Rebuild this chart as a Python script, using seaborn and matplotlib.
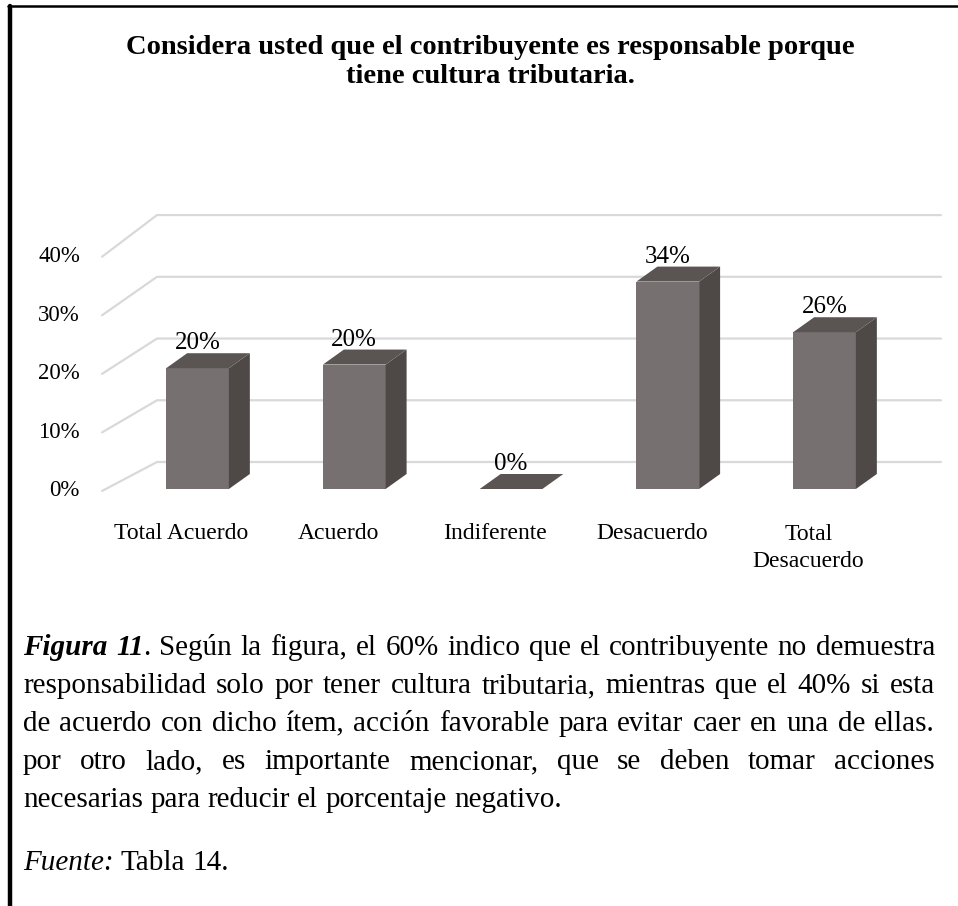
import matplotlib
matplotlib.use("Agg")
import matplotlib.pyplot as plt
import matplotlib.transforms as mtransforms
from matplotlib.patches import Polygon
from matplotlib.lines import Line2D
import seaborn as sns

# datos del grafico
categories = ["Total Acuerdo", "Acuerdo", "Indiferente", "Desacuerdo", "Total Desacuerdo"]
tick_labels = ["Total Acuerdo", "Acuerdo", "Indiferente", "Desacuerdo", "Total\nDesacuerdo"]
values = [19.8, 20.4, 0.0, 34.0, 25.7]
yticks = [0, 10, 20, 30, 40]

title = "Considera usted que el contribuyente es responsable porque\ntiene cultura tributaria."
caption_lines = [
    [[("Figura", "bi")], [("11", "bi"), (".", "r")], "Según", "la", "figura,", "el", "60%", "indico",
     "que", "el", "contribuyente", "no", "demuestra"],
    "responsabilidad solo por tener cultura tributaria, mientras que el 40% si esta".split(),
    "de acuerdo con dicho ítem, acción favorable para evitar caer en una de ellas.".split(),
    "por otro lado, es importante mencionar, que se deben tomar acciones".split(),
]
caption_last = "necesarias para reducir el porcentaje negativo."
source = [("Fuente:", "i"), ("Tabla", "r"), ("14.", "r")]

FRONT = "#767170"
SIDE = "#4e4947"
TOP = "#5a5553"
GRID = "#d9d9d9"

W, H = 958, 906
sns.set_theme(style="white")
plt.rcParams["font.family"] = ["Liberation Serif", "DejaVu Serif"]
plt.rcParams["text.color"] = "black"

fig = plt.figure(figsize=(W / 100, H / 100), dpi=100)
ident = mtransforms.IdentityTransform()

# marco
fig.add_artist(Line2D([9.5, 9.5], [0, H - 6], transform=ident, color="black", lw=3.2))
fig.add_artist(Line2D([7.5, W], [H - 6.2, H - 6.2], transform=ident, color="black", lw=1.8))

# baseline de la ultima linea del titulo
fig.text(490 / W, 1 - 83 / H, title, ha="center", va="baseline", fontsize=20.5,
         fontweight="bold", linespacing=1.22)

ax = fig.add_axes([100 / W, (H - 500) / H, 845 / W, 300 / H])
sns.barplot(x=categories, y=values, width=0.4, color=FRONT, saturation=1,
            linewidth=0, ax=ax, zorder=3)
ax.set_xlim((100 - 197.5) / 156.75, (945 - 197.5) / 156.75)
ax.set_ylim((489 - 500) / 6.1, (489 - 200) / 6.1)
ax.axis("off")

to_disp = ax.transData.transform

# rejilla en perspectiva
for v in yticks:
    yb = to_disp((0, v * 1.012))[1] + 27
    yf = to_disp((0, v * 0.96))[1] - 2
    ax.add_line(Line2D([102, 157, 941], [yf, yb, yb], transform=ident, color=GRID,
                       lw=1.6, clip_on=False, zorder=1))
    ax.text(80, yf, f"{v}%", transform=ident, ha="right", va="center", fontsize=16.5)

# caras 3D de las barras
dx, dy = 21, 15
for p, v in zip(ax.patches, values):
    x0, y0 = to_disp((p.get_x(), p.get_y()))
    x1, y1 = to_disp((p.get_x() + p.get_width(), p.get_y() + p.get_height()))
    top = [(x0, y1), (x1, y1), (x1 + dx, y1 + dy), (x0 + dx, y1 + dy)]
    side = [(x1, y0), (x1, y1), (x1 + dx, y1 + dy), (x1 + dx, y0 + dy)]
    ax.add_patch(Polygon(side, closed=True, transform=ident, facecolor=SIDE,
                         edgecolor="none", clip_on=False, zorder=3))
    ax.add_patch(Polygon(top, closed=True, transform=ident, facecolor=TOP,
                         edgecolor="none", clip_on=False, zorder=3))
    ax.annotate(f"{round(v)}%", xy=(p.get_x() + p.get_width() / 2, v), xytext=(0, 18),
                textcoords="offset points", ha="center", va="center", fontsize=18, zorder=5)

for i, lbl in enumerate(tick_labels):
    nl = lbl.count("\n")
    ax.annotate(lbl, xy=(i, 0), xytext=(-11.5, -36.0 - 20.2 * nl), textcoords="offset points",
                ha="center", va="baseline", fontsize=17, linespacing=1.4,
                annotation_clip=False)

# texto justificado del pie
styles = {"r": {}, "i": {"style": "italic"}, "b": {"weight": "bold"},
          "bi": {"style": "italic", "weight": "bold"}}
renderer = fig.canvas.get_renderer()
CAP_FS = 21
left, right = 23, 935


def piece_width(txt, st):
    t = fig.text(0, 0, txt, fontsize=CAP_FS, transform=ident, **styles[st])
    w = t.get_window_extent(renderer).width
    t.remove()
    return w


def put_line(words, y, justify=True):
    words = [w if isinstance(w, list) else [(w, "r")] for w in words]
    widths = [sum(piece_width(t, s) for t, s in w) for w in words]
    space = piece_width("a b", "r") - piece_width("ab", "r")
    gap = (right - left - sum(widths)) / (len(words) - 1) if justify else space
    x = left
    for w, wd in zip(words, widths):
        xx = x
        for t, s in w:
            fig.text(xx, y, t, fontsize=CAP_FS, transform=ident, ha="left",
                     va="baseline", **styles[s])
            xx += piece_width(t, s)
        x += wd + gap


for k, line in enumerate(caption_lines):
    put_line(line, H - (655 + 38 * k))
put_line(caption_last.split(), H - (655 + 38 * 4), justify=False)
put_line([[piece] for piece in source], H - 870, justify=False)

fig.savefig("out.png", dpi=100)
